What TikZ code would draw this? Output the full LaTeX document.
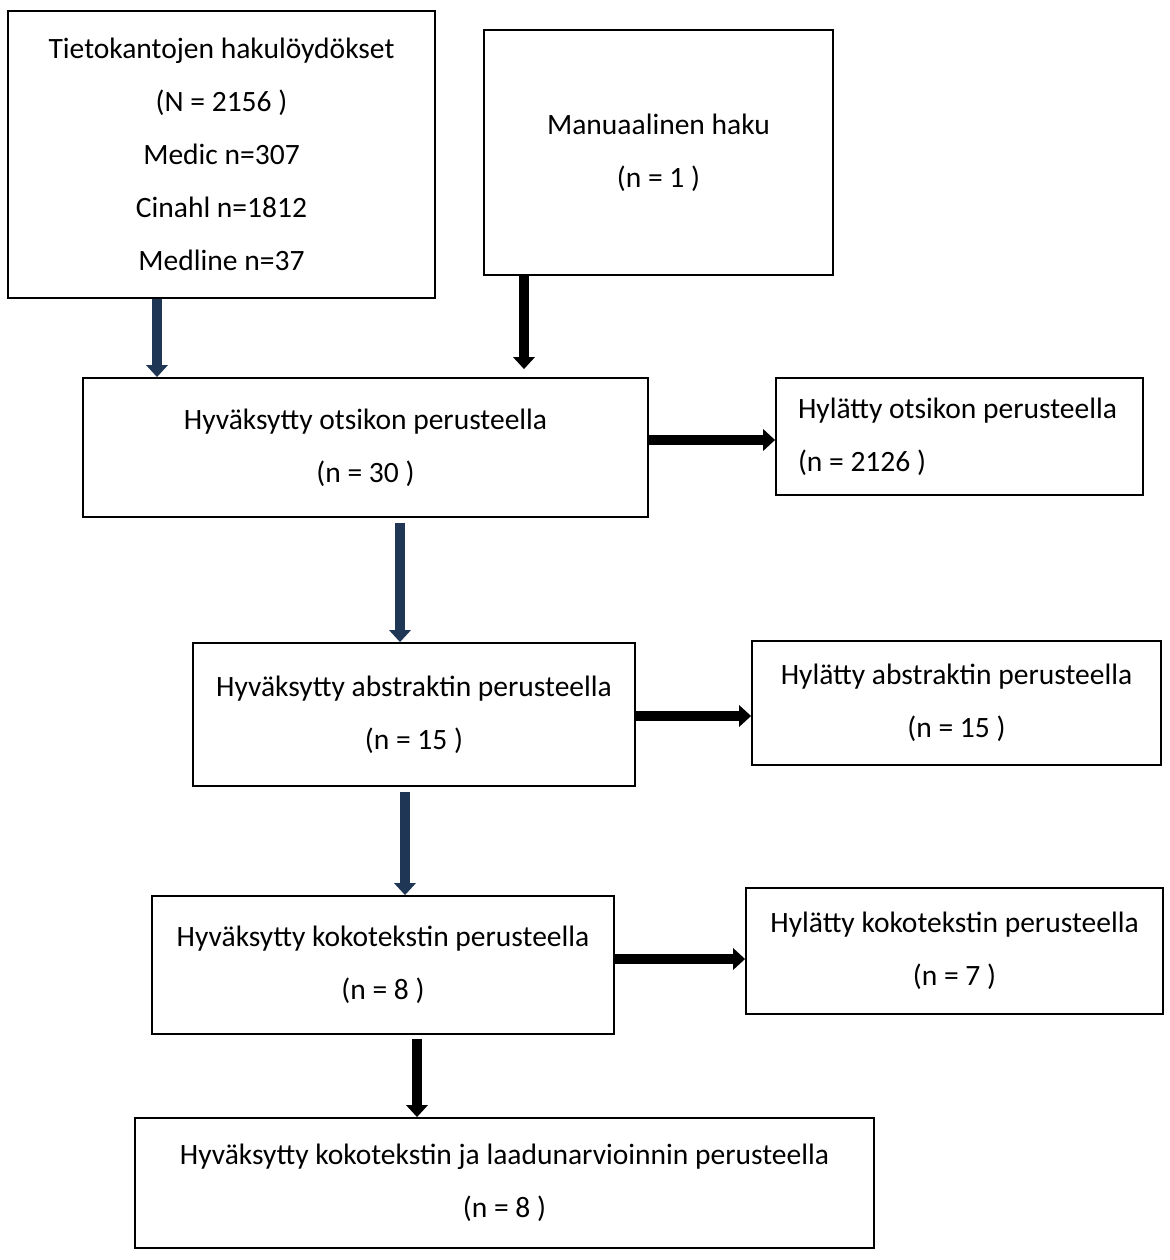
\documentclass[tikz,border=0pt]{standalone}
\usepackage{fontspec}
\setmainfont{Carlito}
\usetikzlibrary{arrows.meta}

\definecolor{navyblue}{RGB}{31,55,85}
\newcommand{\flowfont}{\fontsize{21}{37.7}\selectfont}

\tikzset{
	box/.style={draw,line width=1.3pt,align=center,font=\flowfont,inner sep=0pt},
	fatarrow/.style={line width=6.8pt,-{Triangle[width=0.53cm,length=0.3cm]}},
	navyarrow/.style={fatarrow,navyblue},
	blackarrow/.style={fatarrow,black}
}

\begin{document}
\begin{tikzpicture}
	\useasboundingbox (0,0) rectangle (29.225,-31.5);

	% boxes
	\node[box,minimum width=10.675cm,minimum height=7.175cm] (haku) at (5.5375,-3.8625)
		{Tietokantojen hakulöydökset\\(N = 2156 )\\Medic n=307\\Cinahl n=1812\\Medline n=37};
	\node[box,minimum width=8.725cm,minimum height=6.125cm] (manuaali) at (16.4625,-3.8125)
		{Manuaalinen haku\\(n = 1 )};
	\node[box,minimum width=14.125cm,minimum height=3.475cm] (otsikko) at (9.1375,-11.1875)
		{Hyväksytty otsikon perusteella\\(n = 30 )};
	\node[box,align=flush left,text width=8.075cm,inner xsep=0.55cm,minimum height=2.925cm] (hylotsikko) at (23.9875,-10.9125)
		{Hylätty otsikon perusteella\\(n = 2126 )};
	\node[box,minimum width=11.05cm,minimum height=3.575cm] (abstrakti) at (10.35,-17.8625)
		{Hyväksytty abstraktin perusteella\\(n = 15 )};
	\node[box,minimum width=10.225cm,minimum height=3.1cm] (hylabstrakti) at (23.9125,-17.575)
		{Hylätty abstraktin perusteella\\(n = 15 )};
	\node[box,minimum width=11.55cm,minimum height=3.45cm] (koko) at (9.575,-24.125)
		{Hyväksytty kokotekstin perusteella\\(n = 8 )};
	\node[box,minimum width=10.425cm,minimum height=3.15cm] (hylkoko) at (23.8625,-23.775)
		{Hylätty kokotekstin perusteella\\(n = 7 )};
	\node[box,minimum width=18.475cm,minimum height=3.25cm] (laatu) at (12.6125,-29.575)
		{Hyväksytty kokotekstin ja laadunarvioinnin perusteella\\(n = 8 )};

	% arrow columns and rows
	\coordinate (c1) at (3.925,0);
	\coordinate (c2) at (13.1,0);
	\coordinate (c3) at (10.0,0);
	\coordinate (c4) at (10.125,0);
	\coordinate (c5) at (10.425,0);
	\coordinate (r1) at (0,-11.0);
	\coordinate (r2) at (0,-17.9);
	\coordinate (r3) at (0,-23.975);

	% arrows
	\draw[navyarrow] (haku.south -| c1) -- (otsikko.north -| c1);
	\draw[blackarrow,shorten >=0.2cm] (manuaali.south -| c2) -- (otsikko.north -| c2);
	\draw[blackarrow] (otsikko.east |- r1) -- (hylotsikko.west |- r1);
	\draw[navyarrow,shorten <=0.12cm] (otsikko.south -| c3) -- (abstrakti.north -| c3);
	\draw[blackarrow] (abstrakti.east |- r2) -- (hylabstrakti.west |- r2);
	\draw[navyarrow,shorten <=0.12cm] (abstrakti.south -| c4) -- (koko.north -| c4);
	\draw[blackarrow] (koko.east |- r3) -- (hylkoko.west |- r3);
	\draw[blackarrow,shorten <=0.1cm] (koko.south -| c5) -- (laatu.north -| c5);
\end{tikzpicture}
\end{document}
